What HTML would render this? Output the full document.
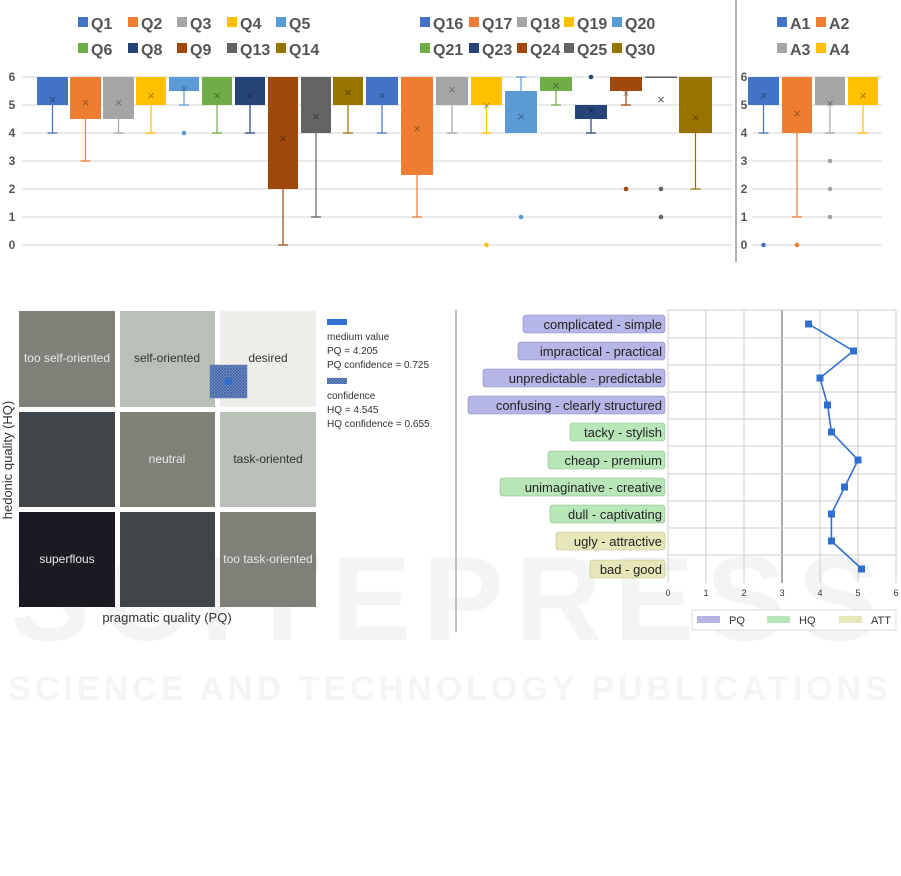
<!DOCTYPE html>
<html><head><meta charset="utf-8"><style>
body{margin:0;background:#fff;width:901px;height:876px;overflow:hidden}
svg{position:absolute;left:0;top:0}
</style></head><body>
<svg width="901" height="876" xmlns="http://www.w3.org/2000/svg" font-family="Liberation Sans, DejaVu Sans, sans-serif">
<text x="450" y="640" font-size="120" font-weight="bold" fill="#f4f4f4" text-anchor="middle" letter-spacing="12">SCITEPRESS</text>
<text x="450" y="700" font-size="34" font-weight="bold" fill="#f4f4f4" text-anchor="middle" letter-spacing="4">SCIENCE AND TECHNOLOGY PUBLICATIONS</text>
<line x1="736" y1="0" x2="736" y2="262" stroke="#999" stroke-width="1.5"/>
<g stroke="#e4e4e4" stroke-width="1.5">
<line x1="22" x2="732" y1="77" y2="77"/><line x1="22" x2="732" y1="105" y2="105"/><line x1="22" x2="732" y1="133" y2="133"/><line x1="22" x2="732" y1="161" y2="161"/><line x1="22" x2="732" y1="189" y2="189"/><line x1="22" x2="732" y1="217" y2="217"/><line x1="22" x2="732" y1="245" y2="245"/>
<line x1="752" x2="882" y1="77" y2="77"/><line x1="752" x2="882" y1="105" y2="105"/><line x1="752" x2="882" y1="133" y2="133"/><line x1="752" x2="882" y1="161" y2="161"/><line x1="752" x2="882" y1="189" y2="189"/><line x1="752" x2="882" y1="217" y2="217"/><line x1="752" x2="882" y1="245" y2="245"/>
</g>
<g font-size="12" font-weight="bold" fill="#555" text-anchor="middle">
<text x="12" y="81">6</text><text x="12" y="109">5</text><text x="12" y="137">4</text><text x="12" y="165">3</text><text x="12" y="193">2</text><text x="12" y="221">1</text><text x="12" y="249">0</text>
<text x="744" y="81">6</text><text x="744" y="109">5</text><text x="744" y="137">4</text><text x="744" y="165">3</text><text x="744" y="193">2</text><text x="744" y="221">1</text><text x="744" y="249">0</text>
</g>
<!-- whiskers -->
<g stroke-width="1.2">
<path d="M52.5 105V133M47.5 133H57.5" stroke="#4472c4"/>
<path d="M85.5 119V161M80.5 161H90.5" stroke="#ed7d31"/>
<path d="M118.5 119V133M113.5 133H123.5" stroke="#a5a5a5"/>
<path d="M151 105V133M146 133H156" stroke="#ffc000"/>
<path d="M184 91V105M179 105H189" stroke="#5b9bd5"/>
<path d="M217 105V133M212 133H222" stroke="#70ad47"/>
<path d="M250 105V133M245 133H255" stroke="#264478"/>
<path d="M283 189V245M278 245H288" stroke="#9e480e"/>
<path d="M316 133V217M311 217H321" stroke="#636363"/>
<path d="M348 105V133M343 133H353" stroke="#997300"/>
<path d="M382 105V133M377 133H387" stroke="#4472c4"/>
<path d="M417 175V217M412 217H422" stroke="#ed7d31"/>
<path d="M452 105V133M447 133H457" stroke="#a5a5a5"/>
<path d="M486.5 105V133M481.5 133H491.5" stroke="#ffc000"/>
<path d="M521 91V77M516 77H526" stroke="#5b9bd5"/>
<path d="M556 91V105M551 105H561" stroke="#70ad47"/>
<path d="M591 119V133M586 133H596" stroke="#264478"/>
<path d="M626 91V105M621 105H631" stroke="#9e480e"/>
<path d="M695.5 133V189M690.5 189H700.5" stroke="#997300"/>
<path d="M763.5 105V133M758.5 133H768.5" stroke="#4472c4"/>
<path d="M797 133V217M792 217H802" stroke="#ed7d31"/>
<path d="M830 105V133M825 133H835" stroke="#a5a5a5"/>
<path d="M863 105V133M858 133H868" stroke="#ffc000"/>
</g>
<!-- boxes -->
<rect x="37" y="77" width="31" height="28" fill="#4472c4"/>
<rect x="70" y="77" width="31" height="42" fill="#ed7d31"/>
<rect x="103" y="77" width="31" height="42" fill="#a5a5a5"/>
<rect x="136" y="77" width="30" height="28" fill="#ffc000"/>
<rect x="169" y="77" width="30" height="14" fill="#5b9bd5"/>
<rect x="202" y="77" width="30" height="28" fill="#70ad47"/>
<rect x="235" y="77" width="30" height="28" fill="#264478"/>
<rect x="268" y="77" width="30" height="112" fill="#9e480e"/>
<rect x="301" y="77" width="30" height="56" fill="#636363"/>
<rect x="333" y="77" width="30" height="28" fill="#997300"/>
<rect x="366" y="77" width="32" height="28" fill="#4472c4"/>
<rect x="401" y="77" width="32" height="98" fill="#ed7d31"/>
<rect x="436" y="77" width="32" height="28" fill="#a5a5a5"/>
<rect x="471" y="77" width="31" height="28" fill="#ffc000"/>
<rect x="505" y="91" width="32" height="42" fill="#5b9bd5"/>
<rect x="540" y="77" width="32" height="14" fill="#70ad47"/>
<rect x="575" y="105" width="32" height="14" fill="#264478"/>
<rect x="610" y="77" width="32" height="14" fill="#9e480e"/>
<rect x="645" y="76.5" width="32" height="1.5" fill="#636363"/>
<rect x="679" y="77" width="33" height="56" fill="#997300"/>
<rect x="748" y="77" width="31" height="28" fill="#4472c4"/>
<rect x="782" y="77" width="30" height="56" fill="#ed7d31"/>
<rect x="815" y="77" width="30" height="28" fill="#a5a5a5"/>
<rect x="848" y="77" width="30" height="28" fill="#ffc000"/>
<!-- means -->
<g font-size="13" fill="rgba(0,0,0,0.35)" text-anchor="middle">
<text x="52.5" y="104">×</text><text x="85.5" y="107">×</text><text x="118.5" y="107">×</text><text x="151" y="100">×</text><text x="184" y="93">×</text><text x="217" y="100">×</text><text x="250" y="100">×</text><text x="283" y="143">×</text><text x="316" y="121">×</text><text x="348" y="97">×</text>
<text x="382" y="100">×</text><text x="417" y="133">×</text><text x="452" y="94">×</text><text x="486.5" y="110">×</text><text x="521" y="121">×</text><text x="556" y="90">×</text><text x="591" y="115">×</text><text x="626" y="98">×</text><text x="661" y="104" fill="#555">×</text><text x="695.5" y="122">×</text>
<text x="763.5" y="100">×</text><text x="797" y="118">×</text><text x="830" y="108">×</text><text x="863" y="100">×</text>
</g>
<!-- outliers -->
<circle cx="184" cy="133" r="2.3" fill="#5b9bd5"/>
<circle cx="486.5" cy="245" r="2.3" fill="#ffc000"/>
<circle cx="521" cy="217" r="2.3" fill="#5b9bd5"/>
<circle cx="591" cy="77" r="2.3" fill="#264478"/>
<circle cx="626" cy="189" r="2.3" fill="#9e480e"/>
<circle cx="661" cy="189" r="2.3" fill="#636363"/>
<circle cx="661" cy="217" r="2.3" fill="#636363"/>
<circle cx="763.5" cy="245" r="2.3" fill="#4472c4"/>
<circle cx="797" cy="245" r="2.3" fill="#ed7d31"/>
<circle cx="830" cy="161" r="2.3" fill="#a5a5a5"/>
<circle cx="830" cy="189" r="2.3" fill="#a5a5a5"/>
<circle cx="830" cy="217" r="2.3" fill="#a5a5a5"/>
<!-- legends -->
<g font-size="16" font-weight="bold" fill="#555">
<rect x="78" y="17" width="10" height="10" fill="#4472c4"/><text x="91" y="29">Q1</text>
<rect x="128" y="17" width="10" height="10" fill="#ed7d31"/><text x="141" y="29">Q2</text>
<rect x="177" y="17" width="10" height="10" fill="#a5a5a5"/><text x="190" y="29">Q3</text>
<rect x="227" y="17" width="10" height="10" fill="#ffc000"/><text x="240" y="29">Q4</text>
<rect x="276" y="17" width="10" height="10" fill="#5b9bd5"/><text x="289" y="29">Q5</text>
<rect x="78" y="43" width="10" height="10" fill="#70ad47"/><text x="91" y="55">Q6</text>
<rect x="128" y="43" width="10" height="10" fill="#264478"/><text x="141" y="55">Q8</text>
<rect x="177" y="43" width="10" height="10" fill="#9e480e"/><text x="190" y="55">Q9</text>
<rect x="227" y="43" width="10" height="10" fill="#636363"/><text x="240" y="55">Q13</text>
<rect x="276" y="43" width="10" height="10" fill="#997300"/><text x="289" y="55">Q14</text>
<rect x="420" y="17" width="10" height="10" fill="#4472c4"/><text x="433" y="29">Q16</text>
<rect x="469" y="17" width="10" height="10" fill="#ed7d31"/><text x="482" y="29">Q17</text>
<rect x="517" y="17" width="10" height="10" fill="#a5a5a5"/><text x="530" y="29">Q18</text>
<rect x="564" y="17" width="10" height="10" fill="#ffc000"/><text x="577" y="29">Q19</text>
<rect x="612" y="17" width="10" height="10" fill="#5b9bd5"/><text x="625" y="29">Q20</text>
<rect x="420" y="43" width="10" height="10" fill="#70ad47"/><text x="433" y="55">Q21</text>
<rect x="469" y="43" width="10" height="10" fill="#264478"/><text x="482" y="55">Q23</text>
<rect x="517" y="43" width="10" height="10" fill="#9e480e"/><text x="530" y="55">Q24</text>
<rect x="564" y="43" width="10" height="10" fill="#636363"/><text x="577" y="55">Q25</text>
<rect x="612" y="43" width="10" height="10" fill="#997300"/><text x="625" y="55">Q30</text>
<rect x="777" y="17" width="10" height="10" fill="#4472c4"/><text x="790" y="29">A1</text>
<rect x="816" y="17" width="10" height="10" fill="#ed7d31"/><text x="829" y="29">A2</text>
<rect x="777" y="43" width="10" height="10" fill="#a5a5a5"/><text x="790" y="55">A3</text>
<rect x="816" y="43" width="10" height="10" fill="#ffc000"/><text x="829" y="55">A4</text>
</g>

<!-- portfolio -->
<rect x="19" y="311" width="96" height="96" fill="#7f8078"/>
<rect x="120" y="311" width="95" height="96" fill="#b9c0b8"/>
<rect x="220" y="311" width="96" height="96" fill="#efeeea"/>
<rect x="19" y="412" width="96" height="95" fill="#40454a"/>
<rect x="120" y="412" width="95" height="95" fill="#7f8078"/>
<rect x="220" y="412" width="96" height="95" fill="#b9c0b8"/>
<rect x="19" y="512" width="96" height="95" fill="#1a1b22"/>
<rect x="120" y="512" width="95" height="95" fill="#40454a"/>
<rect x="220" y="512" width="96" height="95" fill="#7f8078"/>
<defs><pattern id="h" width="3" height="3" patternUnits="userSpaceOnUse"><rect width="3" height="3" fill="#8aa0c8"/><path d="M0 0L3 3M3 0L0 3" stroke="#3a5fa8" stroke-width="0.8"/></pattern></defs>
<rect x="210" y="365" width="37" height="33" fill="url(#h)" stroke="#6080b8" stroke-width="0.5"/>
<rect x="225" y="378" width="7" height="7" fill="#2f6fd0"/>
<g font-size="12" text-anchor="middle">
<text x="67" y="362" fill="#e8e8e8">too self-oriented</text>
<text x="167" y="362" fill="#333">self-oriented</text>
<text x="268" y="362" fill="#333">desired</text>
<text x="167" y="463" fill="#e8e8e8">neutral</text>
<text x="268" y="463" fill="#333">task-oriented</text>
<text x="67" y="563" fill="#e8e8e8">superflous</text>
<text x="268" y="563" fill="#e8e8e8">too task-oriented</text>
</g>
<text x="167" y="622" font-size="13" text-anchor="middle" fill="#333">pragmatic quality (PQ)</text>
<text transform="translate(12,460) rotate(-90)" font-size="13" text-anchor="middle" fill="#333">hedonic quality (HQ)</text>
<rect x="327" y="319" width="20" height="6" fill="#2f6fd0"/>
<g font-size="10" fill="#333">
<text x="327" y="340">medium value</text>
<text x="327" y="354">PQ = 4.205</text>
<text x="327" y="368">PQ confidence = 0.725</text>
<rect x="327" y="378" width="20" height="6" fill="url(#h)"/>
<text x="327" y="399">confidence</text>
<text x="327" y="413">HQ = 4.545</text>
<text x="327" y="427">HQ confidence = 0.655</text>
</g>
<line x1="456" y1="310" x2="456" y2="632" stroke="#999" stroke-width="1.2"/>

<!-- profile -->
<g stroke="#ccc" stroke-width="1">
<line x1="668" x2="668" y1="310" y2="583"/><line x1="706" x2="706" y1="310" y2="583"/><line x1="744" x2="744" y1="310" y2="583"/><line x1="782" x2="782" y1="310" y2="583" stroke="#555"/><line x1="820" x2="820" y1="310" y2="583"/><line x1="858" x2="858" y1="310" y2="583"/><line x1="896" x2="896" y1="310" y2="583"/>
<line x1="668" x2="896" y1="310" y2="310"/><line x1="668" x2="896" y1="338" y2="338"/><line x1="668" x2="896" y1="365" y2="365"/><line x1="668" x2="896" y1="392" y2="392"/><line x1="668" x2="896" y1="419" y2="419"/><line x1="668" x2="896" y1="446" y2="446"/><line x1="668" x2="896" y1="474" y2="474"/><line x1="668" x2="896" y1="501" y2="501"/><line x1="668" x2="896" y1="528" y2="528"/><line x1="668" x2="896" y1="555" y2="555"/>
</g>
<polyline points="808.6,324 853.4,351 820,378 827.6,405 831.4,432 858,460 844.7,487 831.4,514 831.4,541 861.8,569" fill="none" stroke="#2f6fd0" stroke-width="1.6"/>
<g fill="#2f6fd0">
<rect x="805" y="320.5" width="7" height="7"/><rect x="850" y="347.5" width="7" height="7"/><rect x="816.5" y="374.5" width="7" height="7"/><rect x="824" y="401.5" width="7" height="7"/><rect x="828" y="428.5" width="7" height="7"/><rect x="854.5" y="456.5" width="7" height="7"/><rect x="841" y="483.5" width="7" height="7"/><rect x="828" y="510.5" width="7" height="7"/><rect x="828" y="537.5" width="7" height="7"/><rect x="858" y="565.5" width="7" height="7"/>
</g>
<g font-size="9" fill="#333" text-anchor="middle">
<text x="668" y="596">0</text><text x="706" y="596">1</text><text x="744" y="596">2</text><text x="782" y="596">3</text><text x="820" y="596">4</text><text x="858" y="596">5</text><text x="896" y="596">6</text>
</g>
<rect x="692" y="610" width="204" height="20" fill="#fff" stroke="#ddd"/>
<rect x="697" y="616" width="23" height="7" fill="#b5b5e6"/><text x="729" y="624" font-size="11" fill="#333">PQ</text>
<rect x="767" y="616" width="23" height="7" fill="#b8e6b8"/><text x="799" y="624" font-size="11" fill="#333">HQ</text>
<rect x="839" y="616" width="23" height="7" fill="#e6e6b8"/><text x="871" y="624" font-size="11" fill="#333">ATT</text>
<g stroke-width="0.6">
<rect x="523" y="315" width="142" height="18" rx="3" fill="#b5b5e6" stroke="#8888c8"/>
<rect x="518" y="342" width="147" height="18" rx="3" fill="#b5b5e6" stroke="#8888c8"/>
<rect x="483" y="369" width="182" height="18" rx="3" fill="#b5b5e6" stroke="#8888c8"/>
<rect x="468" y="396" width="197" height="18" rx="3" fill="#b5b5e6" stroke="#8888c8"/>
<rect x="570" y="423" width="95" height="18" rx="3" fill="#b8e6b8" stroke="#88c088"/>
<rect x="548" y="451" width="117" height="18" rx="3" fill="#b8e6b8" stroke="#88c088"/>
<rect x="500" y="478" width="165" height="18" rx="3" fill="#b8e6b8" stroke="#88c088"/>
<rect x="550" y="505" width="115" height="18" rx="3" fill="#b8e6b8" stroke="#88c088"/>
<rect x="556" y="532" width="109" height="18" rx="3" fill="#e6e6b8" stroke="#c0c088"/>
<rect x="590" y="560" width="75" height="18" rx="3" fill="#e6e6b8" stroke="#c0c088"/>
</g>
<g font-size="13" fill="#222" text-anchor="end">
<text x="662" y="329">complicated - simple</text>
<text x="662" y="356">impractical - practical</text>
<text x="662" y="383">unpredictable - predictable</text>
<text x="662" y="410">confusing - clearly structured</text>
<text x="662" y="437">tacky - stylish</text>
<text x="662" y="465">cheap - premium</text>
<text x="662" y="492">unimaginative - creative</text>
<text x="662" y="519">dull - captivating</text>
<text x="662" y="546">ugly - attractive</text>
<text x="662" y="574">bad - good</text>
</g>
</svg>
</body></html>
